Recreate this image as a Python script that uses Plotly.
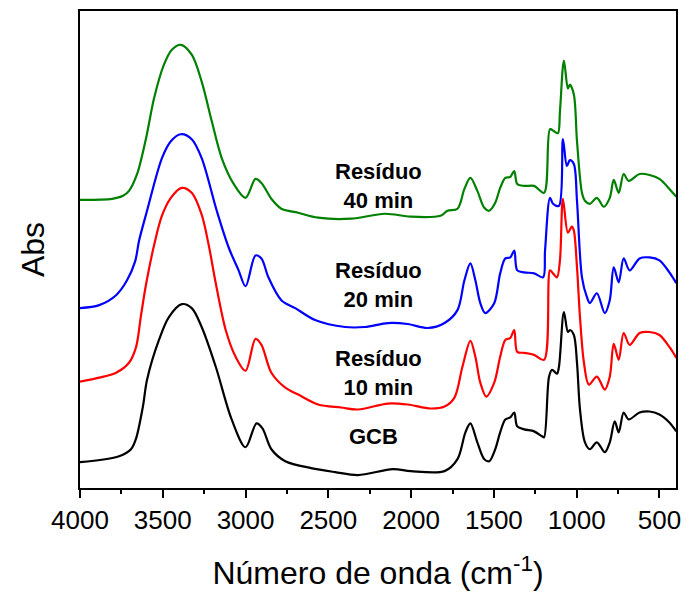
import plotly.graph_objects as go

# ---- data (wavenumber in cm-1, absorbance in arbitrary offset units)
gcb_wn = [4000, 3764, 3692, 3661, 3620, 3595, 3523, 3463, 3385, 3325, 3265, 3180, 3084, 3000, 2934, 2898, 2844,
          2760, 2604, 2459, 2321, 2110, 2002, 1798, 1720, 1672, 1642, 1600, 1558, 1528, 1492, 1462, 1431,
          1401, 1377, 1359, 1317, 1257, 1209, 1197, 1167, 1149, 1119, 1107, 1077, 1053, 1041, 1017, 998,
          980, 950, 920, 878, 830, 800, 770, 746, 716, 686, 620, 560, 500, 440, 398]
gcb_abs = [0.26, 0.32, 0.39, 0.50, 0.82, 1.09, 1.49, 1.72, 1.85, 1.81, 1.62, 1.22, 0.69, 0.41, 0.65, 0.60, 0.39,
           0.27, 0.20, 0.16, 0.13, 0.19, 0.17, 0.17, 0.29, 0.56, 0.65, 0.46, 0.29, 0.27, 0.39, 0.56, 0.69,
           0.71, 0.76, 0.62, 0.59, 0.57, 0.52, 0.51, 1.12, 1.19, 1.15, 1.22, 1.77, 1.57, 1.59, 1.54, 1.26,
           0.79, 0.46, 0.39, 0.46, 0.36, 0.46, 0.67, 0.56, 0.76, 0.69, 0.76, 0.77, 0.74, 0.66, 0.57]

r10_wn = [4000, 3884, 3782, 3704, 3661, 3633, 3601, 3553, 3505, 3451, 3385, 3325, 3265, 3222, 3180, 3120, 3060,
          3000, 2940, 2904, 2844, 2760, 2682, 2562, 2423, 2321, 2140, 2020, 1882, 1798, 1738, 1690, 1642,
          1612, 1582, 1546, 1498, 1462, 1431, 1401, 1377, 1359, 1317, 1257, 1197, 1161, 1143, 1119, 1101,
          1083, 1053, 1029, 1017, 998, 980, 956, 926, 878, 830, 800, 776, 746, 716, 680, 620, 560, 500,
          440, 398]
r10_abs = [1.07, 1.11, 1.16, 1.26, 1.42, 1.72, 2.05, 2.44, 2.74, 2.92, 3.02, 2.97, 2.75, 2.44, 2.06, 1.59, 1.32,
           1.18, 1.50, 1.44, 1.16, 1.01, 0.94, 0.84, 0.81, 0.79, 0.85, 0.84, 0.80, 0.82, 0.91, 1.22, 1.48,
           1.32, 1.06, 0.92, 1.06, 1.32, 1.49, 1.51, 1.59, 1.37, 1.36, 1.34, 1.29, 2.19, 2.16, 2.12, 2.29,
           2.91, 2.57, 2.63, 2.59, 2.22, 1.72, 1.26, 1.04, 1.12, 0.99, 1.12, 1.45, 1.29, 1.56, 1.44, 1.56,
           1.57, 1.54, 1.42, 1.31]

r20_wn = [4000, 3884, 3782, 3716, 3667, 3643, 3595, 3505, 3451, 3391, 3325, 3265, 3174, 3102, 3042, 3000, 2940,
          2904, 2862, 2784, 2700, 2580, 2399, 2279, 2140, 2020, 1900, 1798, 1720, 1678, 1642, 1612, 1582,
          1552, 1498, 1462, 1431, 1401, 1377, 1359, 1317, 1257, 1203, 1191, 1161, 1143, 1107, 1083, 1059,
          1041, 1017, 998, 968, 938, 920, 878, 830, 800, 776, 746, 716, 680, 620, 560, 500, 440, 398]
r20_abs = [1.81, 1.84, 1.94, 2.09, 2.28, 2.49, 2.79, 3.32, 3.49, 3.56, 3.51, 3.32, 2.79, 2.42, 2.19, 2.03, 2.34,
           2.31, 2.12, 1.89, 1.81, 1.69, 1.62, 1.62, 1.66, 1.65, 1.61, 1.66, 1.79, 2.09, 2.26, 2.09, 1.86,
           1.76, 1.86, 2.16, 2.31, 2.32, 2.39, 2.19, 2.17, 2.16, 2.12, 2.39, 2.92, 2.86, 2.84, 3.51, 3.24,
           3.30, 3.26, 2.89, 2.12, 1.92, 1.86, 1.96, 1.76, 1.89, 2.22, 2.07, 2.31, 2.19, 2.31, 2.32, 2.29,
           2.17, 2.06]

r40_wn = [4000, 3806, 3740, 3704, 3655, 3601, 3553, 3493, 3445, 3391, 3325, 3265, 3204, 3144, 3072, 3000, 2940,
          2904, 2844, 2784, 2682, 2562, 2363, 2158, 2002, 1822, 1780, 1720, 1678, 1642, 1600, 1558, 1528,
          1492, 1462, 1431, 1401, 1377, 1359, 1317, 1257, 1197, 1161, 1137, 1113, 1101, 1077, 1053, 1041,
          1017, 998, 968, 950, 920, 878, 836, 800, 776, 746, 716, 686, 620, 560, 500, 440, 398]
r40_abs = [2.90, 2.91, 2.94, 2.99, 3.16, 3.52, 3.92, 4.26, 4.41, 4.46, 4.36, 4.09, 3.69, 3.32, 3.06, 2.92, 3.11,
           3.07, 2.91, 2.81, 2.77, 2.72, 2.71, 2.76, 2.73, 2.74, 2.79, 2.81, 3.01, 3.12, 2.99, 2.82, 2.79,
           2.87, 3.02, 3.12, 3.13, 3.19, 3.06, 3.04, 3.04, 2.97, 3.61, 3.59, 3.57, 3.79, 4.30, 4.02, 4.06,
           3.96, 3.49, 2.97, 2.89, 2.86, 2.92, 2.83, 2.92, 3.10, 2.97, 3.16, 3.09, 3.16, 3.15, 3.11, 3.01,
           2.93]

series = [
    ("GCB", gcb_wn, gcb_abs, "#000000"),
    ("Resíduo 10 min", r10_wn, r10_abs, "#ff0000"),
    ("Resíduo 20 min", r20_wn, r20_abs, "#0000ff"),
    ("Resíduo 40 min", r40_wn, r40_abs, "#008000"),
]

label_text = ["GCB", "Resíduo<br>10 min", "Resíduo<br>20 min", "Resíduo<br>40 min"]
label_wn = [2230, 2200, 2200, 2200]
label_abs = [0.52, 1.16, 2.04, 3.04]

x_ticks = [4000, 3500, 3000, 2500, 2000, 1500, 1000, 500]

FONT = "Liberation Sans, Arial, sans-serif"

fig = go.Figure()
for name, wn, ab, col in series:
    fig.add_trace(go.Scatter(x=wn, y=ab, mode="lines", name=name,
                             line=dict(color=col, width=2.2, shape="spline", smoothing=0.9),
                             showlegend=False))

for t, xv, yv in zip(label_text, label_wn, label_abs):
    txt = "<br>".join("<b>" + part + "</b>" for part in t.split("<br>"))
    fig.add_annotation(x=xv, y=yv, text=txt, showarrow=False,
                       font=dict(family=FONT, size=22, color="black"), align="center")

fig.update_layout(
    width=690, height=594,
    margin=dict(l=80, r=10, t=9, b=105),
    paper_bgcolor="white", plot_bgcolor="white",
    font=dict(family=FONT, color="black"),
)
fig.update_xaxes(
    range=[4000, 400], tickvals=x_ticks, ticktext=[str(v) for v in x_ticks],
    ticks="outside", ticklen=8, tickwidth=1.5, tickcolor="black",
    minor=dict(dtick=250, ticks="outside", ticklen=4, tickwidth=1.5, tickcolor="black"),
    showline=True, linecolor="black", linewidth=1.8, mirror=True,
    showgrid=False, zeroline=False,
    tickfont=dict(size=26, family=FONT),
    title=dict(text="Número de onda (cm<sup>-1</sup>)", font=dict(size=32, family=FONT), standoff=28),
)
fig.update_yaxes(
    range=[0, 4.8], showticklabels=False, ticks="",
    showline=True, linecolor="black", linewidth=1.8, mirror=True,
    showgrid=False, zeroline=False,
    title=dict(text="Abs", font=dict(size=32, family=FONT), standoff=24),
)

fig.write_html("out.html")
